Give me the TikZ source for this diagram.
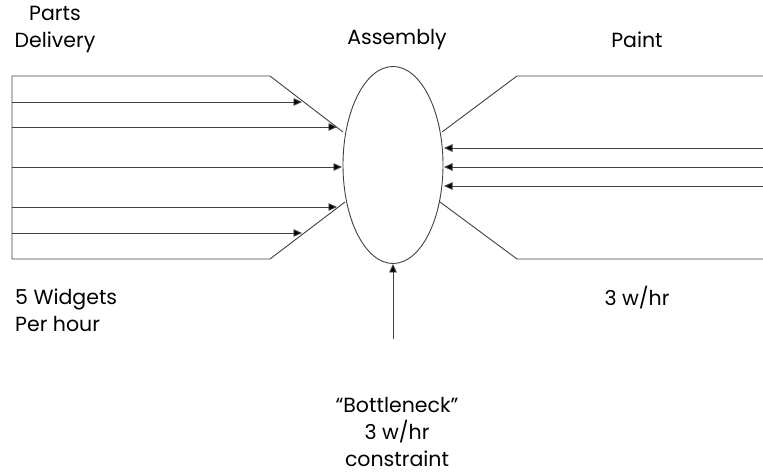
\documentclass[tikz,border=0pt]{standalone}
\usepackage{fontspec}
\setmainfont{Poppins}
\usetikzlibrary{arrows.meta,shapes.geometric}
\begin{document}
\begin{tikzpicture}[x=1pt,y=-1pt,
  outline/.style={draw=black!75,line width=0.9pt},
  flow/.style={draw=black!75,line width=0.9pt,-{Triangle[length=8.5pt,width=7.5pt,fill=black]}},
  lbl/.style={font=\fontsize{20.5}{27}\selectfont,align=center,inner sep=0pt}]
\useasboundingbox (0,0) rectangle (763,473);
% assembly ellipse
\node[ellipse,draw=black!75,line width=0.9pt,minimum width=100pt,minimum height=197pt,inner sep=0pt] (asm) at (393,165) {};
% left funnel
\coordinate (lt) at (270,76); \coordinate (lb) at (270,259);
\coordinate (ltip1) at (343,132); \coordinate (ltip2) at (345,202);
\draw[outline] (ltip1) -- (lt) -- (12,76) -- (12,259) -- (lb) -- (ltip2);
% left arrows
\foreach \y/\e [count=\i] in {102/302,127/337,167/342,207/337,233/302}{
  \coordinate (ls\i) at (12,\y); \coordinate (le\i) at (\e,\y);
  \draw[flow] (ls\i) -- (le\i);
}
% right funnel
\coordinate (rt) at (517,76); \coordinate (rb) at (517,259);
\coordinate (rtip1) at (442,132); \coordinate (rtip2) at (440,202);
\draw[outline] (rtip1) -- (rt) -- (763,76);
\draw[outline] (rtip2) -- (rb) -- (763,259);
% right arrows
\foreach \y [count=\i] in {148,167,186}{
  \coordinate (rs\i) at (763,\y); \coordinate (re\i) at (444,\y);
  \draw[flow] (rs\i) -- (re\i);
}
% bottom arrow
\coordinate (bs) at (393,339);
\draw[flow] (bs) -- (asm.south);
% labels
\node[lbl] (pd) at (55,30) {Parts\\Delivery};
\node[lbl] (as) at (397,40) {Assembly};
\node[lbl] (pa) at (637,40) {Paint};
\node[lbl,align=left,anchor=west] (wd) at (15,310) {5 Widgets\\Per hour};
\node[lbl] (tw) at (637,298) {3 w/hr};
\node[lbl] (bn) at (397,432) {“Bottleneck”\\3 w/hr\\constraint};
\end{tikzpicture}
\end{document}
